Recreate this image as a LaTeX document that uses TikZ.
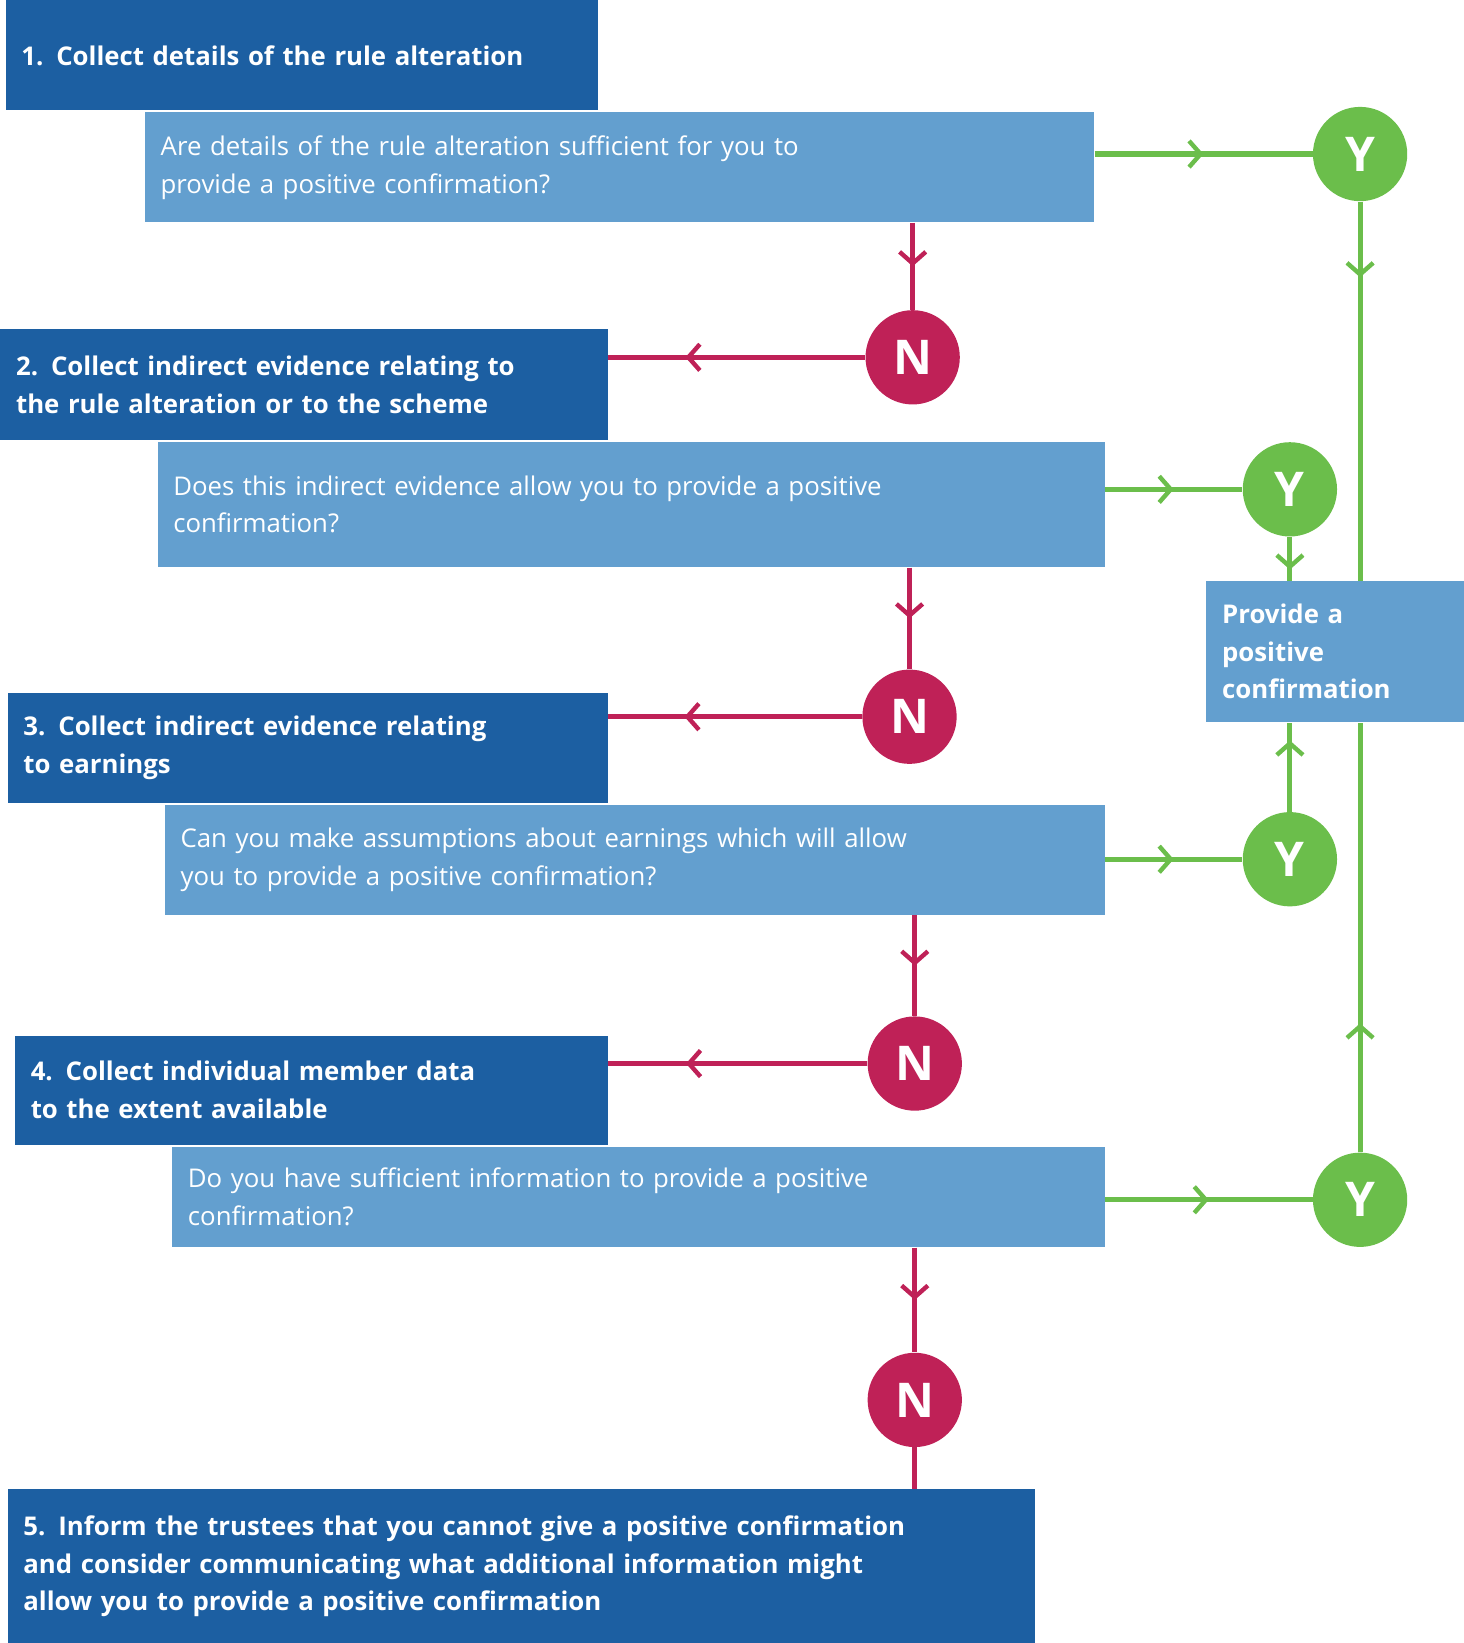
\documentclass[tikz,border=0pt]{standalone}
\usepackage{fontspec}
\setmainfont{Open Sans}
\usetikzlibrary{arrows.meta, positioning, decorations.markings}

\definecolor{stepblue}{HTML}{1C5FA2}
\definecolor{askblue}{HTML}{639FCF}
\definecolor{yesgreen}{HTML}{6BBE4B}
\definecolor{nored}{HTML}{BF2157}

\begin{document}
\begin{tikzpicture}[
  x=0.02cm, y=-0.02cm,
  % boxes
  box/.style={anchor=north west, inner xsep=0.3cm, inner ysep=0pt, align=left,
    text=white, font=\fontsize{14}{20.5}\selectfont},
  stepbox/.style={box, fill=stepblue, font=\fontsize{14}{20.5}\selectfont\bfseries},
  askbox/.style={box, fill=askblue},
  yesnode/.style={circle, fill=yesgreen, minimum size=1.8cm, inner sep=0pt, text=white,
    font=\fontsize{26}{26}\selectfont\bfseries},
  nonode/.style={yesnode, fill=nored},
  % connectors with a barb part way along
  yesline/.style={draw=yesgreen, line width=2.8pt, postaction={decorate},
    decoration={markings, mark=at position #1 with {\arrow[yesgreen]{Straight Barb[length=2.2mm, width=5mm, line width=2.4pt]}}}},
  noline/.style={draw=nored, line width=2.8pt, postaction={decorate},
    decoration={markings, mark=at position #1 with {\arrow[nored]{Straight Barb[length=2.2mm, width=5mm, line width=2.4pt]}}}},
  plainno/.style={draw=nored, line width=2.8pt}
]
\useasboundingbox (0,0) rectangle (1397,1568);

% Steps and questions
\node[stepbox, text width=10.7cm, minimum height=2.1cm] (step1) at (5,0) {1. Collect details of the rule alteration};
\node[askbox, text width=17.52cm, minimum height=2.1cm] (ask1) at (138,107) {Are details of the rule alteration sufficient for you to\\provide a positive confirmation?};
\node[stepbox, text width=11.0cm, minimum height=2.12cm] (step2) at (0,314) {2. Collect indirect evidence relating to\\the rule alteration or to the scheme};
\node[askbox, text width=17.48cm, minimum height=2.4cm] (ask2) at (150,421) {Does this indirect evidence allow you to provide a positive\\confirmation?};
\node[stepbox, text width=10.86cm, minimum height=2.1cm] (step3) at (7,661) {3. Collect indirect evidence relating\\to earnings};
\node[askbox, text width=17.34cm, minimum height=2.1cm] (ask3) at (157,768) {Can you make assumptions about earnings which will allow\\you to provide a positive confirmation?};
\node[stepbox, text width=10.72cm, minimum height=2.08cm] (step4) at (14,988) {4. Collect individual member data\\to the extent available};
\node[askbox, text width=17.2cm, minimum height=1.92cm] (ask4) at (164,1094) {Do you have sufficient information to provide a positive\\confirmation?};
\node[stepbox, text width=19.02cm, minimum height=2.94cm] (step5) at (7,1421) {5. Inform the trustees that you cannot give a positive confirmation\\and consider communicating what additional information might\\allow you to provide a positive confirmation};
\node[askbox, text width=4.32cm, minimum height=2.7cm, font=\fontsize{14}{20.5}\selectfont\bfseries] (confirm) at (1151,554) {Provide a\\positive\\confirmation};

% Y and N circles
\node[yesnode] (yes1) at (1298,147) {Y};
\node[yesnode] (yes2) at (1231,467) {Y};
\node[yesnode] (yes3) at (1231,820) {Y};
\node[yesnode] (yes4) at (1298,1145) {Y};
\node[nonode] (no1) at (871,341) {N};
\node[nonode] (no2) at (868,684) {N};
\node[nonode] (no3) at (873,1015) {N};
\node[nonode] (no4) at (873,1336) {N};

% Yes branches
\draw[yesline=0.5] (yes1 -| ask1.east) -- (yes1);
\draw[yesline=0.5] (yes2 -| ask2.east) -- (yes2);
\draw[yesline=0.5] (yes3 -| ask3.east) -- (yes3);
\draw[yesline=0.5] (yes4 -| ask4.east) -- (yes4);
\draw[yesline=0.2] (yes1) -- (yes1 |- confirm.north);
\draw[yesline=0.75] (yes2) -- (yes2 |- confirm.north);
\draw[yesline=0.8] (yes3) -- (yes3 |- confirm.south);
\draw[yesline=0.3] (yes4) -- (yes4 |- confirm.south);

% No branches
\draw[noline=0.5] (ask1.south -| no1) -- (no1);
\draw[noline=0.5] (ask2.south -| no2) -- (no2);
\draw[noline=0.5] (ask3.south -| no3) -- (no3);
\draw[noline=0.5] (ask4.south -| no4) -- (no4);
\draw[noline=0.7] (no1) -- (no1 -| step2.east);
\draw[noline=0.7] (no2) -- (no2 -| step3.east);
\draw[noline=0.7] (no3) -- (no3 -| step4.east);
\draw[plainno] (no4) -- (no4 |- step5.north);

\end{tikzpicture}
\end{document}
